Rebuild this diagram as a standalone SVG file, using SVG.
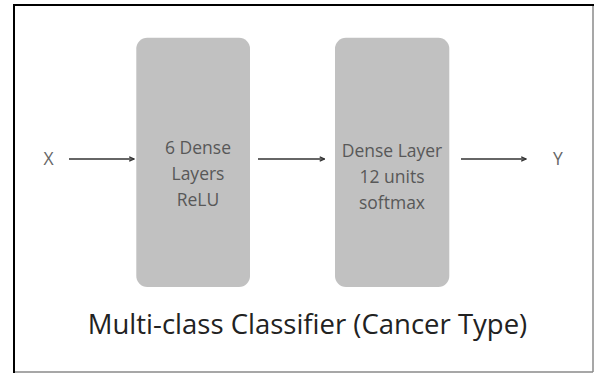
<svg xmlns="http://www.w3.org/2000/svg" width="595" height="373" viewBox="0 0 595 373">
  <style>
    .node rect { fill: #c1c1c1; }
    .node text, .io { font-family: "Open Sans", "Liberation Sans", sans-serif; font-size: 17.5px; fill: #585858; text-anchor: middle; }
    .io { fill: #666; }
    .edge { stroke: #333; stroke-width: 1.4; fill: none; marker-end: url(#arrow); }
    .title { font-family: "Open Sans", "Liberation Sans", sans-serif; font-size: 27.5px; fill: #222; text-anchor: middle; }
  </style>
  <defs>
    <marker id="arrow" viewBox="0 0 10 10" refX="9" refY="5" markerWidth="6" markerHeight="6" markerUnits="userSpaceOnUse" orient="auto">
      <path d="M1,1.5 L9,5 L1,8.5" fill="none" stroke="#333" stroke-width="2.2"/>
    </marker>
  </defs>

  <!-- page background and frame -->
  <rect x="0" y="0" width="595" height="373" fill="#fff"/>
  <line x1="593" y1="5" x2="593" y2="372" stroke="#8a8a8a" stroke-width="1.5"/>
  <line x1="14" y1="372" x2="593" y2="372" stroke="#8a8a8a" stroke-width="1.5"/>
  <line x1="14" y1="5" x2="594" y2="5" stroke="#000" stroke-width="2"/>
  <line x1="14" y1="4" x2="14" y2="373" stroke="#000" stroke-width="2"/>

  <!-- input / output labels -->
  <g id="input-x"><text class="io" x="48.5" y="165">X</text></g>
  <g id="output-y"><text class="io" x="558" y="165">Y</text></g>

  <!-- layer blocks -->
  <g id="hidden-layers" class="node">
    <rect x="136.3" y="37.7" width="113.7" height="249.3" rx="11"/>
    <text x="198" y="154">6 Dense</text>
    <text x="198" y="179.8">Layers</text>
    <text x="198" y="205.5">ReLU</text>
  </g>
  <g id="output-layer" class="node">
    <rect x="335" y="37.7" width="114.3" height="249.3" rx="11"/>
    <text x="392" y="157.3">Dense Layer</text>
    <text x="392" y="183">12 units</text>
    <text x="392" y="208.6">softmax</text>
  </g>

  <!-- connectors -->
  <g id="connectors">
    <line class="edge" x1="69" y1="159" x2="134" y2="159"/>
    <line class="edge" x1="258" y1="159" x2="324.5" y2="159"/>
    <line class="edge" x1="461" y1="159" x2="526" y2="159"/>
  </g>

  <!-- caption -->
  <text class="title" x="307.5" y="334">Multi-class Classifier (Cancer Type)</text>
</svg>
